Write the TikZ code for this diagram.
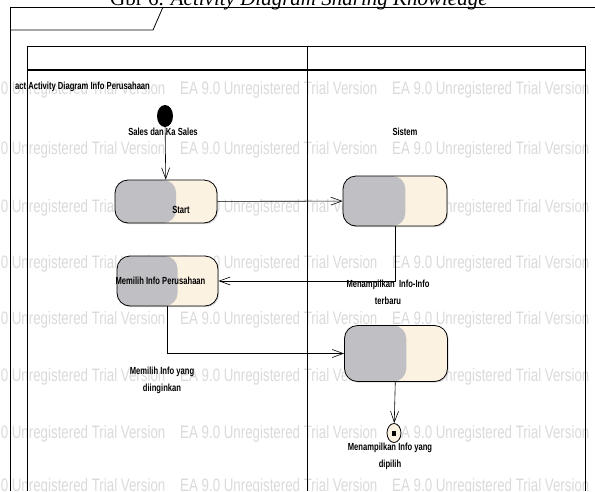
\documentclass[tikz,border=0pt]{standalone}
\usepackage{fontspec}
\setmainfont{Liberation Serif}
\newfontfamily\eafont[FakeStretch=0.74]{Liberation Sans}
\usetikzlibrary{arrows.meta,calc,shadows,shapes.geometric}

\definecolor{aksiabu}{RGB}{192,192,196}
\definecolor{aksikrem}{RGB}{252,242,226}
\definecolor{tandaabu}{RGB}{218,218,218}

\begin{document}
\begin{tikzpicture}[
    x=1pt, y=-1pt,
    garis/.style={line width=0.8pt},
    aksi/.style={draw, line width=0.8pt, rounded corners=13pt, fill=aksikrem,
                 drop shadow={shadow xshift=1.2pt, shadow yshift=-1.2pt, fill=black!30},
                 path picture={\fill[aksiabu] (path picture bounding box.south west)
                   rectangle ($(path picture bounding box.north west)!0.6!(path picture bounding box.north east)$);}},
    teks/.style={font=\eafont\bfseries\fontsize{10.3}{17}\selectfont, align=center, inner sep=0pt},
    tanda/.style={font=\eafont\fontsize{18}{20}\selectfont, text=tandaabu, inner sep=0pt, anchor=west},
    panah/.style={-{Straight Barb[length=11pt,width=8pt]}, line width=0.6pt}
]
\useasboundingbox (0,0) rectangle (595,491);

% watermark
\foreach \y in {90,150,208,264,320,377,434,487}
  \foreach \x in {-32,180,392}
    \node[tanda] (tanda\x\y) at (\x,\y) {EA 9.0 Unregistered Trial Version};

% frame
\node[anchor=base west, inner sep=0pt, font=\fontsize{21}{24}\selectfont] (judul) at (110,5)
  {Gbr 6. \textit{Activity Diagram Sharing Knowledge}};
\draw[garis] (10,491) -- (10,7) -- (595,7);
\draw[garis] (163,7) -- (153,30) -- (10,30);
\node[teks, anchor=west] (act) at (15,87) {act Activity Diagram Info Perusahaan};

% swimlanes
\draw[garis] (27,491) -- (27,46) -- (585,46) -- (585,491);
\draw[line width=1.2pt] (27,70) -- (585,70);
\draw[garis] (307,46) -- (307,491);

% activity
\node[ellipse, fill=black, minimum width=16pt, minimum height=22pt, inner sep=0pt] (awal) at (165,116) {};
\node[teks] (sales) at (163,132) {Sales dan Ka Sales};
\node[teks] (sistem) at (405,132) {Sistem};

\node[aksi, minimum width=102pt, minimum height=43pt,
      label={[teks, xshift=15pt, yshift=-8pt]center:Start}] (start) at (166,201.5) {};
\node[aksi, minimum width=104pt, minimum height=50pt] (tampil) at (395,201) {};
\node[teks] (lbltampil) at (388,292) {Menampilkan\ \ Info-Info\\terbaru};

\node[aksi, minimum width=101pt, minimum height=50pt,
      label={[teks, xshift=-7pt]center:Memilih Info Perusahaan}] (pilih) at (167.5,281) {};
\node[teks] (lblpilih) at (162,380) {Memilih Info yang\\diinginkan};

\node[aksi, minimum width=103pt, minimum height=56pt] (tampilpilih) at (396,353.5) {};

\node[ellipse, draw, line width=0.8pt, fill=aksikrem, minimum width=14pt, minimum height=19pt, inner sep=0pt] (akhir) at (394,433) {};
\node[fill=black, minimum width=4pt, minimum height=5pt, inner sep=0pt] (akhirdot) at (akhir) {};
\node[teks] (lblakhir) at (390,456) {Menampilkan Info yang\\dipilih};

\draw[panah] (awal) -- (start);
\draw[panah] (start) -- (tampil);
\draw[panah] (tampil.south) |- (pilih);
\draw[panah] (pilih) |- (tampilpilih);
\draw[panah] (tampilpilih) -- (akhir);
\end{tikzpicture}
\end{document}
